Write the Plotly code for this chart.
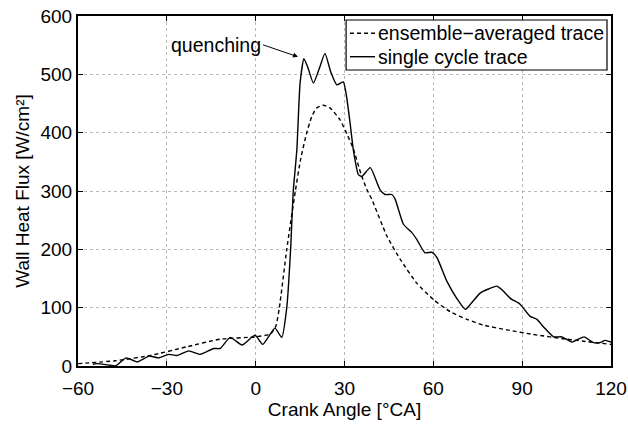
import plotly.graph_objects as go

# Single cycle trace
single_x = [-55, -53.6, -50, -47.4, -43.7, -40, -36, -32.8, -29.4, -26.6, -22.6, -18.7, -14.2, -12, -8.6,
            -4.6, -0.2, 2.4, 6.5, 8.8, 10.5, 11.8, 12.7, 13.9, 15.0, 16.3, 17.6, 19.5, 21.5, 23.4,
            25.3, 27.4, 29.6, 30.6, 31.9, 33.0, 34.7, 35.9, 38.7, 42.0, 43.7, 46.0, 47.1, 49.9, 52.7, 54.4,
            57.2, 59.5, 61.2, 64.6, 67.9, 70.8, 72.4, 75.8, 78.6, 81.4, 83.1, 86.0, 89.3, 92.7, 95.0,
            97.2, 100.6, 103.4, 106.8, 109.0, 110.9, 114.1, 116.3, 118.0, 120.0]
single_y = [3, 4, 2, 0, 14, 7, 17, 14, 20, 18, 26, 20, 30, 30, 49,
            36, 53, 37, 65, 49, 100, 200, 300, 370, 485, 527, 512, 485, 510, 536,
            505, 482, 487, 465, 416, 370, 328, 325, 340, 302, 294, 294, 286, 243, 229, 217,
            194, 195, 186, 145, 116, 97, 105, 125, 132, 137, 131, 116, 106, 85, 80,
            67, 50, 50, 41, 46, 50, 40, 40, 44, 41]

# Ensemble-averaged trace
ens_x = [-60, -47.4, -35.6, -23.2, -12, 0, 5, 6.8, 8.0, 10.5, 13.4, 15.2, 17.2, 18.9, 20.5, 22.8, 25.0,
         28.5, 30.8, 33.0, 35.5, 37.5, 39.2, 44.3, 48.8, 54.4, 60, 65.7, 71.3, 77, 84.8, 93.8, 105, 120]
ens_y = [4, 9, 18, 33, 46, 50, 55, 68, 100, 200, 300, 355, 399, 427, 442, 447, 443,
         422, 398, 372, 330, 303, 286, 223, 183, 142, 114, 93, 80, 70, 62, 54, 46, 37]

series_names = ["ensemble\u2212averaged trace", "single cycle trace"]

x_ticks = [-60, -30, 0, 30, 60, 90, 120]
y_ticks = [0, 100, 200, 300, 400, 500, 600]

FONT = "Liberation Sans, Arial, sans-serif"
FS = 19
DASH = "4px,3px"

fig = go.Figure()
fig.add_trace(go.Scatter(x=ens_x, y=ens_y, mode="lines", name=series_names[0], showlegend=False,
                         line=dict(color="black", width=1.4, dash=DASH, shape="spline", smoothing=0.5)))
fig.add_trace(go.Scatter(x=single_x, y=single_y, mode="lines", name=series_names[1], showlegend=False,
                         line=dict(color="black", width=1.4, shape="spline", smoothing=0.5)))

fig.add_annotation(x=14.3, y=530, ax=-35, ay=-12, text="quenching", showarrow=True,
                   arrowhead=2, arrowsize=1, arrowwidth=1, arrowcolor="black",
                   xanchor="right", font=dict(size=FS + 0.5, color="black", family=FONT))

# Legend box (drawn in paper coordinates, MATLAB-style)
lx0, lx1, ly0, ly1 = 0.503, 0.9925, 0.8457, 0.9886
fig.add_shape(type="rect", xref="paper", yref="paper", x0=lx0, x1=lx1, y0=ly0, y1=ly1,
              line=dict(color="black", width=1.2), fillcolor="white", layer="above")
rows = [0.9506, 0.8837]
dashes = [DASH, "solid"]
for name, ry, d in zip(series_names, rows, dashes):
    fig.add_shape(type="line", xref="paper", yref="paper", x0=0.5103, x1=0.5572, y0=ry, y1=ry,
                  line=dict(color="black", width=1.4, dash=d), layer="above")
    fig.add_annotation(xref="paper", yref="paper", x=0.5591, y=ry, text=name, showarrow=False,
                       xanchor="left", yanchor="middle",
                       font=dict(size=FS + 0.5, color="black", family=FONT))

axis_common = dict(showline=True, linecolor="black", linewidth=2, mirror="ticks",
                   ticks="inside", ticklen=5, tickwidth=1, tickcolor="black",
                   showgrid=True, gridcolor="#b8b8b8", griddash="dot", gridwidth=1,
                   zeroline=False, automargin=False,
                   tickfont=dict(size=FS, color="black", family=FONT),
                   title_font=dict(size=FS, color="black", family=FONT))

fig.update_xaxes(range=[-60, 120], tickvals=x_ticks, title_text="Crank Angle [°CA]",
                 title_standoff=4, ticklabelstandoff=4, **axis_common)
fig.update_yaxes(range=[0, 600], tickvals=y_ticks, title_text="Wall Heat Flux [W/cm²]",
                 title_standoff=6, ticklabelstandoff=0, **axis_common)

fig.update_layout(width=628, height=425, plot_bgcolor="white", paper_bgcolor="white",
                  margin=dict(l=78, r=17, t=16, b=59),
                  font=dict(family=FONT, color="black"), showlegend=False)

fig.write_html("out.html")
